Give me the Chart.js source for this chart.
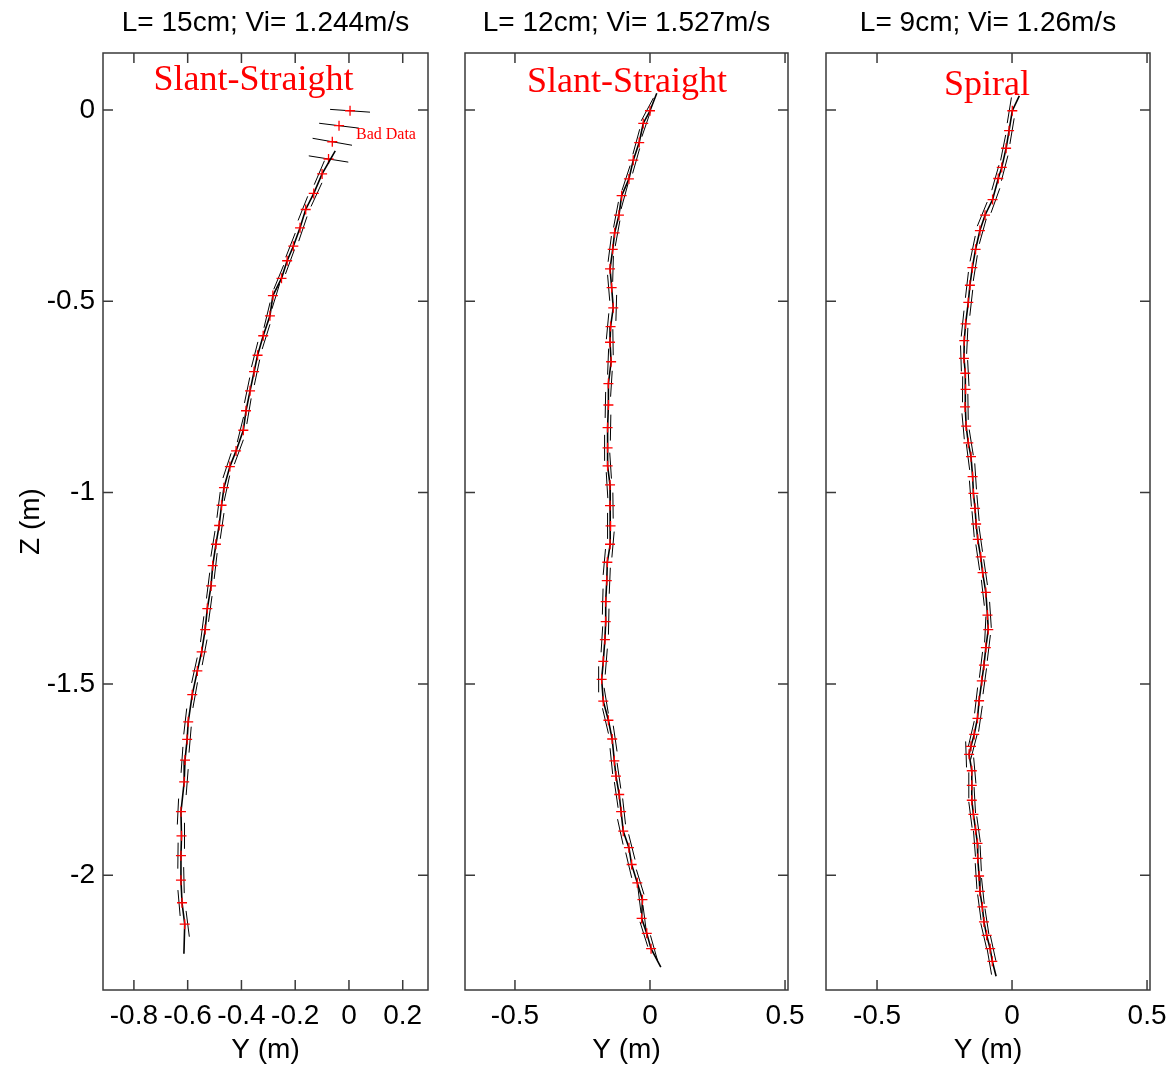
<!DOCTYPE html>
<html lang="en">
<head>
<meta charset="UTF-8">
<title>Pendulum trajectories</title>
<style>
  body { margin: 0; background: #fff; overflow: hidden; }
  #wrap { position: relative; width: 1175px; height: 1074px; }
  .panel { position: absolute; top: 0; height: 1074px; }
</style>
<script src="https://cdn.jsdelivr.net/npm/chart.js"></script>
</head>
<body>
<div id="wrap">
  <div class="panel" style="left:0;width:460px"><canvas id="c1"></canvas></div>
  <div class="panel" style="left:440px;width:380px"><canvas id="c2"></canvas></div>
  <div class="panel" style="left:800px;width:395px"><canvas id="c3"></canvas></div>
</div>
<script>
// panel titles
const titles = ['L= 15cm; Vi= 1.244m/s', 'L= 12cm; Vi= 1.527m/s', 'L= 9cm; Vi= 1.26m/s'];

// tick values
const zTicks = [-2, -1.5, -1, -0.5, 0];
const yTicksWide = [-0.8, -0.6, -0.4, -0.2, 0, 0.2];
const yTicksNarrow = [-0.5, 0, 0.5];

// panel 1 (L = 15cm) - red markers, Y and Z in metres
const p1Y = [-0.100,-0.131,-0.161,-0.182,-0.207,-0.230,-0.251,-0.283,-0.294,-0.319,-0.340,-0.353,-0.368,-0.383,-0.393,-0.420,-0.443,-0.465,-0.474,-0.483,-0.495,-0.507,-0.513,-0.527,-0.535,-0.548,-0.564,-0.583,-0.598,-0.602,-0.610,-0.613,-0.625,-0.623,-0.625,-0.625,-0.621,-0.611];
const p1Z = [-0.167,-0.218,-0.260,-0.308,-0.356,-0.394,-0.440,-0.485,-0.538,-0.590,-0.641,-0.684,-0.734,-0.786,-0.837,-0.891,-0.932,-0.987,-1.033,-1.086,-1.135,-1.191,-1.244,-1.303,-1.358,-1.416,-1.466,-1.528,-1.599,-1.645,-1.699,-1.756,-1.834,-1.897,-1.949,-2.013,-2.072,-2.128];
// ends of the black track (start, end)
const p1LineY = [-0.051, -0.614];
const p1LineZ = [-0.107, -2.205];
// "bad data" points at the top with their near-horizontal bars (deg)
const p1BadY = [0.004, -0.037, -0.062, -0.076];
const p1BadZ = [-0.002, -0.041, -0.083, -0.128];
const p1BadAngle = [4, 7, 10, 9];

// panel 2 (L = 12cm)
const p2Y = [0.000,-0.025,-0.040,-0.062,-0.078,-0.105,-0.115,-0.131,-0.138,-0.148,-0.142,-0.136,-0.146,-0.148,-0.144,-0.154,-0.154,-0.157,-0.157,-0.157,-0.148,-0.148,-0.146,-0.148,-0.158,-0.160,-0.164,-0.164,-0.167,-0.173,-0.179,-0.173,-0.154,-0.140,-0.132,-0.126,-0.114,-0.107,-0.099,-0.078,-0.068,-0.047,-0.028,-0.031,-0.012,0.004];
const p2Z = [-0.002,-0.035,-0.085,-0.131,-0.180,-0.224,-0.275,-0.321,-0.364,-0.415,-0.464,-0.517,-0.566,-0.607,-0.658,-0.715,-0.771,-0.830,-0.883,-0.930,-0.980,-1.034,-1.087,-1.135,-1.182,-1.230,-1.285,-1.337,-1.384,-1.441,-1.488,-1.545,-1.595,-1.644,-1.701,-1.741,-1.789,-1.834,-1.885,-1.928,-1.972,-2.020,-2.064,-2.113,-2.152,-2.192];
const p2LineY = [0.025, 0.040];
const p2LineZ = [0.044, -2.240];

// panel 3 (L = 9cm)
const p3Y = [0.001,-0.011,-0.022,-0.038,-0.051,-0.072,-0.100,-0.119,-0.135,-0.147,-0.156,-0.162,-0.172,-0.177,-0.178,-0.173,-0.172,-0.174,-0.170,-0.162,-0.152,-0.146,-0.143,-0.137,-0.133,-0.127,-0.116,-0.109,-0.097,-0.091,-0.088,-0.097,-0.104,-0.112,-0.122,-0.128,-0.140,-0.152,-0.159,-0.149,-0.149,-0.149,-0.143,-0.135,-0.128,-0.127,-0.122,-0.119,-0.110,-0.104,-0.094,-0.081,-0.073];
const p3Z = [-0.002,-0.054,-0.100,-0.150,-0.179,-0.234,-0.275,-0.315,-0.364,-0.412,-0.458,-0.503,-0.559,-0.603,-0.649,-0.688,-0.730,-0.776,-0.826,-0.870,-0.906,-0.958,-1.002,-1.041,-1.082,-1.122,-1.168,-1.209,-1.261,-1.320,-1.358,-1.405,-1.451,-1.492,-1.544,-1.590,-1.632,-1.663,-1.684,-1.727,-1.765,-1.804,-1.841,-1.881,-1.917,-1.956,-2.002,-2.042,-2.083,-2.122,-2.157,-2.192,-2.225];
const p3LineY = [0.027, -0.059];
const p3LineZ = [0.037, -2.264];

Chart.defaults.font.family = "'Liberation Sans', Arial, sans-serif";
Chart.defaults.color = '#000';

const pts = (ys, zs) => ys.map((y, i) => ({ x: y, y: zs[i] }));
const fmt = v => String(Math.round(v * 100) / 100);
const useTicks = list => scale => { scale.ticks = list.map(v => ({ value: v })); };

// short orientation bars next to each marker, running along the track
const barsPlugin = {
    id: 'bars',
    beforeDatasetsDraw(chart, args, opts) {
        const d = chart.data.datasets[opts.source].data;
        const sx = chart.scales.x, sy = chart.scales.y, ctx = chart.ctx;
        ctx.save();
        ctx.strokeStyle = '#000';
        ctx.lineWidth = 1;
        ctx.beginPath();
        d.forEach((p, i) => {
            const a = d[Math.max(i - 1, 0)], b = d[Math.min(i + 1, d.length - 1)];
            let dx = sx.getPixelForValue(b.x) - sx.getPixelForValue(a.x);
            let dy = sy.getPixelForValue(b.y) - sy.getPixelForValue(a.y);
            const n = Math.hypot(dx, dy) || 1;
            dx /= n; dy /= n;
            const side = i % 2 ? 1 : -1;
            const cx = sx.getPixelForValue(p.x) + side * dy * opts.offset;
            const cy = sy.getPixelForValue(p.y) - side * dx * opts.offset;
            ctx.moveTo(cx - dx * opts.half, cy - dy * opts.half);
            ctx.lineTo(cx + dx * opts.half, cy + dy * opts.half);
        });
        ctx.stroke();
        ctx.restore();
    }
};

// box, inward ticks on four sides, red notes
const framePlugin = {
    id: 'frame',
    afterDatasetsDraw(chart, args, opts) {
        const { ctx, chartArea: a, scales } = chart;
        ctx.save();
        ctx.strokeStyle = '#3a3a3a';
        ctx.lineWidth = 1.5;
        ctx.strokeRect(a.left, a.top, a.right - a.left, a.bottom - a.top);
        const len = 10;
        ctx.beginPath();
        scales.x.ticks.forEach(t => {
            const px = scales.x.getPixelForValue(t.value);
            ctx.moveTo(px, a.bottom); ctx.lineTo(px, a.bottom - len);
            ctx.moveTo(px, a.top); ctx.lineTo(px, a.top + len);
        });
        scales.y.ticks.forEach(t => {
            const py = scales.y.getPixelForValue(t.value);
            ctx.moveTo(a.left, py); ctx.lineTo(a.left + len, py);
            ctx.moveTo(a.right, py); ctx.lineTo(a.right - len, py);
        });
        ctx.stroke();
        (opts.notes || []).forEach(n => {
            ctx.font = n.font;
            ctx.fillStyle = '#ff0000';
            ctx.textAlign = n.align || 'center';
            ctx.textBaseline = 'middle';
            ctx.fillText(n.text, scales.x.getPixelForValue(n.x), scales.y.getPixelForValue(n.y));
        });
        ctx.restore();
    }
};

function makePanel(id, c) {
    const markers = pts(c.y, c.z);
    const track = [{ x: c.lineY[0], y: c.lineZ[0] }, ...markers, { x: c.lineY[1], y: c.lineZ[1] }];
    const datasets = [
        { data: markers, pointStyle: 'cross', pointRadius: 5, borderColor: '#ff0000', borderWidth: 1.3, showLine: false },
        { data: track, showLine: true, pointRadius: 0, borderColor: '#000', borderWidth: 1.6 }
    ];
    if (c.bad) {
        datasets.push({ data: c.bad, pointStyle: 'cross', pointRadius: 5, borderColor: '#ff0000', borderWidth: 1.3, showLine: false });
        datasets.push({ data: c.bad, pointStyle: 'line', pointRadius: 20, rotation: ctx => c.badAngle[ctx.dataIndex] || 0, borderColor: '#000', borderWidth: 1, showLine: false });
    }
    const tickFont = { size: 28 };
    const serif = "'Liberation Serif', 'Times New Roman', serif";
    new Chart(document.getElementById(id), {
        type: 'scatter',
        data: { datasets },
        options: {
            responsive: true,
            maintainAspectRatio: false,
            animation: false,
            events: [],
            layout: { padding: { left: 0, right: c.padRight, top: 0, bottom: 0 } },
            plugins: {
                legend: { display: false },
                tooltip: { enabled: false },
                bars: { source: 0, offset: 3, half: 13 },
                frame: { notes: c.notes.map(n => Object.assign({ font: n.size + 'px ' + serif }, n)) }
            },
            scales: {
                x: {
                    type: 'linear', position: 'bottom', min: c.xMin, max: c.xMax,
                    grid: { display: false, drawTicks: false },
                    border: { display: false },
                    ticks: { font: tickFont, padding: 9, callback: fmt, maxRotation: 0, autoSkip: false, includeBounds: false },
                    afterBuildTicks: useTicks(c.xTicks),
                    afterFit: s => { s.height = 84; },
                    title: { display: true, text: 'Y (m)', font: tickFont, padding: { top: 0, bottom: 7 } }
                },
                top: {
                    type: 'linear', axis: 'x', position: 'top', min: c.xMin, max: c.xMax,
                    grid: { display: false, drawTicks: false },
                    border: { display: false },
                    ticks: { display: false },
                    afterFit: s => { s.height = 53; },
                    title: { display: true, text: c.title, font: { size: 28 }, padding: { top: 6, bottom: 0 } }
                },
                y: {
                    type: 'linear', min: -2.3, max: 0.149,
                    grid: { display: false, drawTicks: false },
                    border: { display: false },
                    ticks: { display: c.yLabels, font: tickFont, padding: 8, callback: fmt, autoSkip: false, includeBounds: false },
                    afterBuildTicks: useTicks(zTicks),
                    afterFit: s => { s.width = c.yWidth; },
                    title: { display: c.yLabels, text: 'Z (m)', font: tickFont, padding: { top: 14, bottom: 0 } }
                }
            }
        },
        plugins: [barsPlugin, framePlugin]
    });
}

makePanel('c1', {
    title: titles[0], y: p1Y, z: p1Z, lineY: p1LineY, lineZ: p1LineZ,
    bad: pts(p1BadY, p1BadZ), badAngle: p1BadAngle, xTicks: yTicksWide,
    xMin: -0.915, xMax: 0.294, yWidth: 103, padRight: 32, yLabels: true,
    notes: [
        { text: 'Slant-Straight', x: -0.355, y: 0.078, size: 36 },
        { text: 'Bad Data', x: 0.026, y: -0.065, align: 'left', size: 16 }
    ]
});
makePanel('c2', {
    title: titles[1], y: p2Y, z: p2Z, lineY: p2LineY, lineZ: p2LineZ, xTicks: yTicksNarrow,
    xMin: -0.685, xMax: 0.511, yWidth: 25, padRight: 32, yLabels: false,
    notes: [{ text: 'Slant-Straight', x: -0.085, y: 0.071, size: 36 }]
});
makePanel('c3', {
    title: titles[2], y: p3Y, z: p3Z, lineY: p3LineY, lineZ: p3LineZ, xTicks: yTicksNarrow,
    xMin: -0.689, xMax: 0.511, yWidth: 26, padRight: 45, yLabels: false,
    notes: [{ text: 'Spiral', x: -0.093, y: 0.065, size: 36 }]
});
</script>
</body>
</html>
